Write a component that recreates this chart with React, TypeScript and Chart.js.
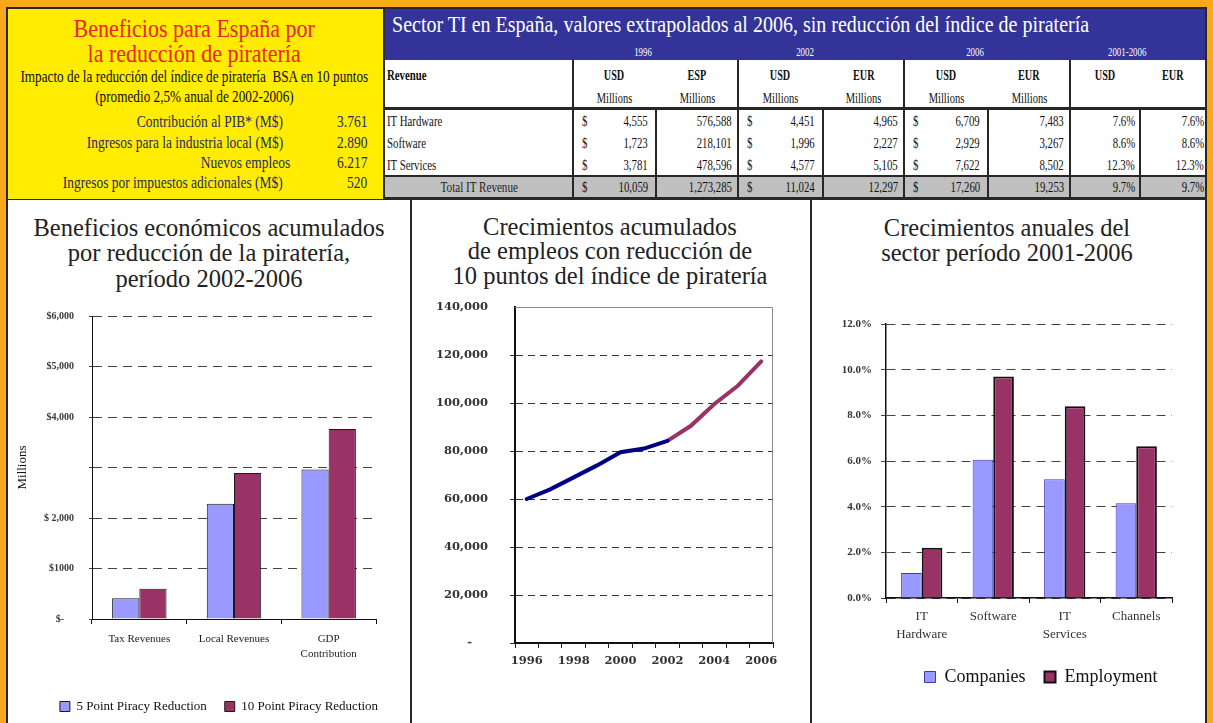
import React, { useEffect, useRef } from 'react';
import { Chart, registerables } from 'chart.js';

Chart.register(...registerables);

const SERIF = '"Liberation Serif", "Times New Roman", serif';
const WIDE = '"DejaVu Serif", serif';

// ---------------- data ----------------
const boxTitle = ['Beneficios para España por', 'la reducción de piratería'];
const boxSubtitle = ['Impacto de la reducción del índice de piratería  BSA en 10 puntos', '(promedio 2,5% anual de 2002-2006)'];
const summaryLabels = ['Contribución al PIB* (M$)', 'Ingresos para la industria local (M$)', 'Nuevos empleos', 'Ingresos por impuestos adicionales (M$)'];
const summaryValues = ['3.761', '2.890', '6.217', '520'];

const tableTitle = 'Sector TI en España, valores extrapolados al 2006, sin reducción del índice de piratería';
const periodLabels = ['1996', '2002', '2006', '2001-2006'];
const currencyLabels = ['USD', 'ESP', 'USD', 'EUR', 'USD', 'EUR', 'USD', 'EUR'];
const unitLabel = 'Millions';
const revenueHeader = 'Revenue';
const revenueRows = ['IT Hardware', 'Software', 'IT Services'];
const totalLabel = 'Total IT Revenue';
const usd1996 = [4555, 1723, 3781, 10059];
const esp1996 = [576588, 218101, 478596, 1273285];
const usd2002 = [4451, 1996, 4577, 11024];
const eur2002 = [4965, 2227, 5105, 12297];
const usd2006 = [6709, 2929, 7622, 17260];
const eur2006 = [7483, 3267, 8502, 19253];
const cagrUsd = ['7.6%', '8.6%', '12.3%', '9.7%'];
const cagrEur = ['7.6%', '8.6%', '12.3%', '9.7%'];

const benefitTitle = ['Beneficios económicos acumulados', 'por reducción de la piratería,', 'período 2002-2006'];
const benefitCategories: (string | string[])[] = ['Tax Revenues', 'Local Revenues', ['GDP', 'Contribution']];
const benefit5 = [410, 2280, 2960];
const benefit10 = [600, 2890, 3761];
const benefitTickValues = [0, 1000, 2000, 3000, 4000, 5000, 6000];
const benefitTickLabels = ['$-    ', '$1000', '$ 2,000', '', '$4,000', '$5,000', '$6,000'];

const employmentTitle = ['Crecimientos acumulados', 'de empleos con reducción de', '10 puntos del índice de piratería'];
const employmentYears = ['1996', '1997', '1998', '1999', '2000', '2001', '2002', '2003', '2004', '2005', '2006'];
const employmentHistoric = [60000, 64000, 69000, 74000, 79500, 81000, 84200, null, null, null, null];
const employmentProjected = [null, null, null, null, null, null, 84200, 90500, 99600, 107200, 117300];

const growthTitle = ['Crecimientos anuales del', 'sector período 2001-2006'];
const growthCategories: (string | string[])[] = [['IT', 'Hardware'], 'Software', ['IT', 'Services'], 'Channels'];
const growthCompanies = [1.1, 6.05, 5.2, 4.15];
const growthEmployment = [2.2, 9.7, 8.4, 6.65];

// ---------------- helpers ----------------
type TxtProps = {
  x: number; y: number; text: string; size: number; color?: string; bold?: boolean;
  align?: 'left' | 'center' | 'right'; sx?: number; family?: string;
};
function Txt({ x, y, text, size, color = '#000', bold = false, align = 'left', sx = 1, family = SERIF }: TxtProps) {
  const w = 1400;
  const left = align === 'left' ? x : align === 'center' ? x - w / 2 : x - w;
  return (
    <div style={{ position: 'absolute', left, top: y - size, width: w, height: size * 2, display: 'flex', alignItems: 'center',
      justifyContent: align === 'left' ? 'flex-start' : align === 'center' ? 'center' : 'flex-end', pointerEvents: 'none' }}>
      <span style={{ display: 'inline-block', whiteSpace: 'pre', fontFamily: family, fontSize: size, fontWeight: bold ? 700 : 400,
        color, lineHeight: 1, transform: `scaleX(${sx})`,
        transformOrigin: align === 'left' ? 'left center' : align === 'center' ? 'center center' : 'right center' }}>{text}</span>
    </div>
  );
}

function Rect({ x, y, w, h, c }: { x: number; y: number; w: number; h: number; c: string }) {
  return <div style={{ position: 'absolute', left: x, top: y, width: w, height: h, background: c }} />;
}

function ChartBox({ left, top, width, height, make }: { left: number; top: number; width: number; height: number; make: () => any }) {
  const ref = useRef<HTMLCanvasElement | null>(null);
  useEffect(() => {
    if (!ref.current) return;
    const chart = new Chart(ref.current, make());
    return () => chart.destroy();
  }, []);
  return <canvas ref={ref} width={width} height={height} style={{ position: 'absolute', left, top, width, height }} />;
}

const shiftLegend = (dx: number) => ({
  id: 'shiftLegend',
  afterLayout(chart: any) {
    const l = chart.legend;
    if (l) { l.left += dx; l.right += dx; }
  },
});

const plotBox = {
  id: 'plotBox',
  beforeDatasetsDraw(chart: any) {
    const { ctx, chartArea: a } = chart;
    ctx.save();
    ctx.strokeStyle = '#8a8a8a';
    ctx.lineWidth = 1;
    ctx.beginPath();
    ctx.moveTo(a.left, a.top + 0.5);
    ctx.lineTo(a.right - 0.5, a.top + 0.5);
    ctx.lineTo(a.right - 0.5, a.bottom);
    ctx.stroke();
    ctx.restore();
  },
};

const fixY = (w: number) => (s: any) => { s.width = w; s.paddingTop = 0; s.paddingBottom = 0; };
const fixX = (h: number) => (s: any) => { s.height = h; s.paddingLeft = 0; s.paddingRight = 0; };

// ---------------- chart configs ----------------
const makeBenefit = () => ({
  type: 'bar',
  data: {
    labels: benefitCategories,
    datasets: [
      { label: '5 Point Piracy Reduction', data: benefit5, backgroundColor: '#9999FF', borderColor: '#1a1a1a', borderWidth: 1, categoryPercentage: 0.575, barPercentage: 1 },
      { label: '10 Point Piracy Reduction', data: benefit10, backgroundColor: '#993366', borderColor: '#1a1a1a', borderWidth: 1, categoryPercentage: 0.575, barPercentage: 1 },
    ],
  },
  options: {
    responsive: false,
    animation: false,
    layout: { padding: { top: 16, right: 34, left: 0, bottom: 0 } },
    plugins: {
      legend: { position: 'bottom', labels: { boxWidth: 10, boxHeight: 10, padding: 18, color: '#111', font: { family: SERIF, size: 13 } } },
      tooltip: { enabled: false },
    },
    scales: {
      x: {
        grid: { drawOnChartArea: false, tickLength: 5, color: '#111', offset: true },
        border: { color: '#111', width: 1 },
        ticks: { font: { family: SERIF, size: 11, lineHeight: 1.4 }, color: '#222', padding: 7, maxRotation: 0, autoSkip: false },
        afterFit: fixX(63),
      },
      y: {
        min: 0, max: 6000,
        afterBuildTicks: (s: any) => { s.ticks = benefitTickValues.map((v) => ({ value: v })); },
        ticks: {
          callback: (v: number) => { const i = benefitTickValues.indexOf(v); return i >= 0 ? benefitTickLabels[i] : ''; },
          font: { family: SERIF, size: 10, weight: 'bold' }, color: '#3a3a3a', padding: 15,
        },
        grid: { color: '#444', tickLength: 3 },
        border: { dash: [9, 6], color: '#111', width: 1 },
        title: { display: true, text: 'Millions', font: { family: SERIF, size: 13 }, color: '#111', padding: { top: 7, bottom: 0 } },
        afterFit: fixY(84),
      },
    },
  },
  plugins: [shiftLegend(27)],
});

const makeEmployment = () => ({
  type: 'line',
  data: {
    labels: employmentYears,
    datasets: [
      { label: 'Histórico', data: employmentHistoric, borderColor: '#000080', borderWidth: 4, pointRadius: 0, tension: 0, spanGaps: false, borderCapStyle: 'round' },
      { label: 'Proyección', data: employmentProjected, borderColor: '#993366', borderWidth: 4, pointRadius: 0, tension: 0, spanGaps: false, borderCapStyle: 'round' },
    ],
  },
  options: {
    responsive: false,
    animation: false,
    layout: { padding: { top: 17, right: 37, left: 0, bottom: 0 } },
    plugins: { legend: { display: false }, tooltip: { enabled: false } },
    scales: {
      x: {
        offset: true,
        grid: { drawOnChartArea: false, tickLength: 5, color: '#222', offset: true },
        border: { color: '#111', width: 2 },
        ticks: {
          autoSkip: false, maxRotation: 0,
          callback: (_v: any, i: number) => (i % 2 === 0 ? employmentYears[i] : ''),
          font: { family: WIDE, size: 11.5, weight: 'bold', lineHeight: 1.2 }, color: '#333', padding: 6,
        },
        afterFit: fixX(80),
      },
      y: {
        min: 0, max: 140000,
        ticks: {
          stepSize: 20000,
          callback: (v: number) => (v === 0 ? '-    ' : v.toLocaleString('en-US')),
          font: { family: WIDE, size: 11.5, weight: 'bold' }, color: '#333', padding: 22,
        },
        grid: { color: (c: any) => (c.tick && c.tick.value === 140000 ? 'rgba(0,0,0,0)' : '#333'), tickLength: 5 },
        border: { dash: [7, 5], color: '#111', width: 2 },
        afterFit: fixY(103),
      },
    },
  },
  plugins: [plotBox],
});

const makeGrowth = () => ({
  type: 'bar',
  data: {
    labels: growthCategories,
    datasets: [
      { label: 'Companies', data: growthCompanies, backgroundColor: '#9999FF', borderColor: '#3b3bb0', borderWidth: 1, categoryPercentage: 0.577, barPercentage: 1 },
      { label: 'Employment', data: growthEmployment, backgroundColor: '#993366', borderColor: '#111', borderWidth: 2, categoryPercentage: 0.577, barPercentage: 1 },
    ],
  },
  options: {
    responsive: false,
    animation: false,
    layout: { padding: { top: 24, right: 32, left: 0, bottom: 27 } },
    plugins: {
      legend: { position: 'bottom', labels: { boxWidth: 11, boxHeight: 11, padding: 19, color: '#111', font: { family: SERIF, size: 18 } } },
      tooltip: { enabled: false },
    },
    scales: {
      x: {
        grid: { drawOnChartArea: false, tickLength: 5, color: '#111', offset: true },
        border: { color: '#111', width: 1.5 },
        ticks: { font: { family: SERIF, size: 13, lineHeight: 1.4 }, color: '#333', padding: 4, maxRotation: 0, autoSkip: false },
        afterFit: fixX(51),
      },
      y: {
        min: 0, max: 12,
        ticks: {
          stepSize: 2,
          callback: (v: number) => v.toFixed(1) + '%',
          font: { family: SERIF, size: 11, weight: 'bold' }, color: '#333', padding: 9,
        },
        grid: { color: '#444', tickLength: 5 },
        border: { dash: [9, 6], color: '#111', width: 1.5 },
        afterFit: fixY(74),
      },
    },
  },
  plugins: [shiftLegend(49)],
});

// ---------------- layout ----------------
const colX = [385, 573, 656, 738, 823, 904, 988, 1070, 1140, 1205];
const dataRowY = [121, 143, 165, 187.5];
const DARK = '#272727';

export default function App() {
  const cols = [usd1996, esp1996, usd2002, eur2002, usd2006, eur2006];
  const fmt = (n: number) => n.toLocaleString('en-US');
  const groupCenters = [643, 805, 975, 1127];
  const summaryRight = [283, 283, 290, 283];
  const summaryY = [122, 143, 163, 183];

  const cells: React.ReactNode[] = [];
  dataRowY.forEach((y, r) => {
    const isTotal = r === 3;
    if (isTotal) cells.push(<Txt key={`rl${r}`} x={479} y={y} text={totalLabel} size={15} align="center" sx={0.74} color="#222" />);
    else cells.push(<Txt key={`rl${r}`} x={387} y={y} text={revenueRows[r]} size={15} sx={0.72} color="#111" />);
    cols.forEach((arr, c) => {
      const l = colX[c + 1];
      const rgt = colX[c + 2];
      if (c % 2 === 0) {
        cells.push(<Txt key={`d${r}${c}`} x={l + 9} y={y} text="$" size={15} sx={0.72} color="#111" />);
        cells.push(<Txt key={`n${r}${c}`} x={rgt - 8} y={y} text={fmt(arr[r])} size={15} sx={0.72} align="right" color="#111" />);
      } else {
        cells.push(<Txt key={`n${r}${c}`} x={rgt - 6} y={y} text={fmt(arr[r])} size={15} sx={0.72} align="right" color="#111" />);
      }
    });
    cells.push(<Txt key={`pu${r}`} x={1140 - 5} y={y} text={cagrUsd[r]} size={15} sx={0.72} align="right" color="#111" />);
    cells.push(<Txt key={`pe${r}`} x={1205 - 1} y={y} text={cagrEur[r]} size={15} sx={0.72} align="right" color="#111" />);
  });

  return (
    <div style={{ position: 'absolute', left: 0, top: 0, width: 1213, height: 723, overflow: 'hidden', background: '#FBA81A', fontFamily: SERIF }}>
      <Rect x={6} y={7} w={1201} h={716} c={DARK} />
      {/* yellow summary box */}
      <Rect x={8} y={9} w={375} h={190} c="#FFEC00" />
      {boxTitle.map((t, i) => (
        <Txt key={`bt${i}`} x={194} y={28 + i * 25} text={t} size={25} color="#E8262A" align="center" sx={0.88} />
      ))}
      {boxSubtitle.map((t, i) => (
        <Txt key={`bs${i}`} x={194} y={77 + i * 20} text={t} size={17.5} color="#0d0d0d" align="center" sx={0.755} />
      ))}
      {summaryLabels.map((t, i) => (
        <Txt key={`sl${i}`} x={summaryRight[i]} y={summaryY[i]} text={t} size={17.5} color="#1d2a63" align="right" sx={0.77} />
      ))}
      {summaryValues.map((t, i) => (
        <Txt key={`sv${i}`} x={367} y={summaryY[i]} text={t} size={17.5} color="#1d2a63" align="right" sx={0.77} />
      ))}

      {/* table */}
      <Rect x={385} y={9} w={820} h={51} c="#333399" />
      <Rect x={385} y={60} w={820} h={47} c="#FFFFFF" />
      <Rect x={385} y={110} w={820} h={65} c="#FFFFFF" />
      <Rect x={385} y={177} w={820} h={20} c="#C0C0C0" />
      <Txt x={392} y={23.5} text={tableTitle} size={24} color="#FFFFFF" sx={0.834} />
      {periodLabels.map((t, i) => (
        <Txt key={`pl${i}`} x={groupCenters[i]} y={51.5} text={t} size={13} color="#FFFFFF" align="center" sx={0.68} />
      ))}
      <Txt x={387} y={75} text={revenueHeader} size={15} bold sx={0.72} color="#111" />
      {currencyLabels.map((t, i) => (
        <Txt key={`cl${i}`} x={(colX[i + 1] + colX[i + 2]) / 2} y={75} text={t} size={15} bold align="center" sx={0.68} color="#111" />
      ))}
      {currencyLabels.slice(0, 6).map((_t, i) => (
        <Txt key={`ul${i}`} x={(colX[i + 1] + colX[i + 2]) / 2} y={98} text={unitLabel} size={15} align="center" sx={0.7} color="#111" />
      ))}
      {[573, 738, 904, 1070].map((x) => (
        <Rect key={`hv${x}`} x={x - 1} y={60} w={2} h={47} c={DARK} />
      ))}
      {colX.slice(1, 9).map((x) => (
        <Rect key={`dv${x}`} x={x - 1} y={110} w={2} h={88} c={DARK} />
      ))}
      {cells}

      {/* bottom panels */}
      <Rect x={8} y={200} w={402} h={523} c="#FFFFFF" />
      <Rect x={412} y={200} w={398} h={523} c="#FFFFFF" />
      <Rect x={812} y={200} w={393} h={523} c="#FFFFFF" />
      {benefitTitle.map((t, i) => (
        <Txt key={`t1${i}`} x={209} y={228 + i * 25.5} text={t} size={24.5} color="#222" align="center" />
      ))}
      {employmentTitle.map((t, i) => (
        <Txt key={`t2${i}`} x={610} y={227 + i * 24.5} text={t} size={24.5} color="#222" align="center" />
      ))}
      {growthTitle.map((t, i) => (
        <Txt key={`t3${i}`} x={1007} y={228 + i * 25} text={t} size={24.5} color="#222" align="center" />
      ))}
      <ChartBox left={8} top={300} width={402} height={423} make={makeBenefit} />
      <ChartBox left={412} top={290} width={398} height={433} make={makeEmployment} />
      <ChartBox left={812} top={300} width={392} height={423} make={makeGrowth} />
    </div>
  );
}
